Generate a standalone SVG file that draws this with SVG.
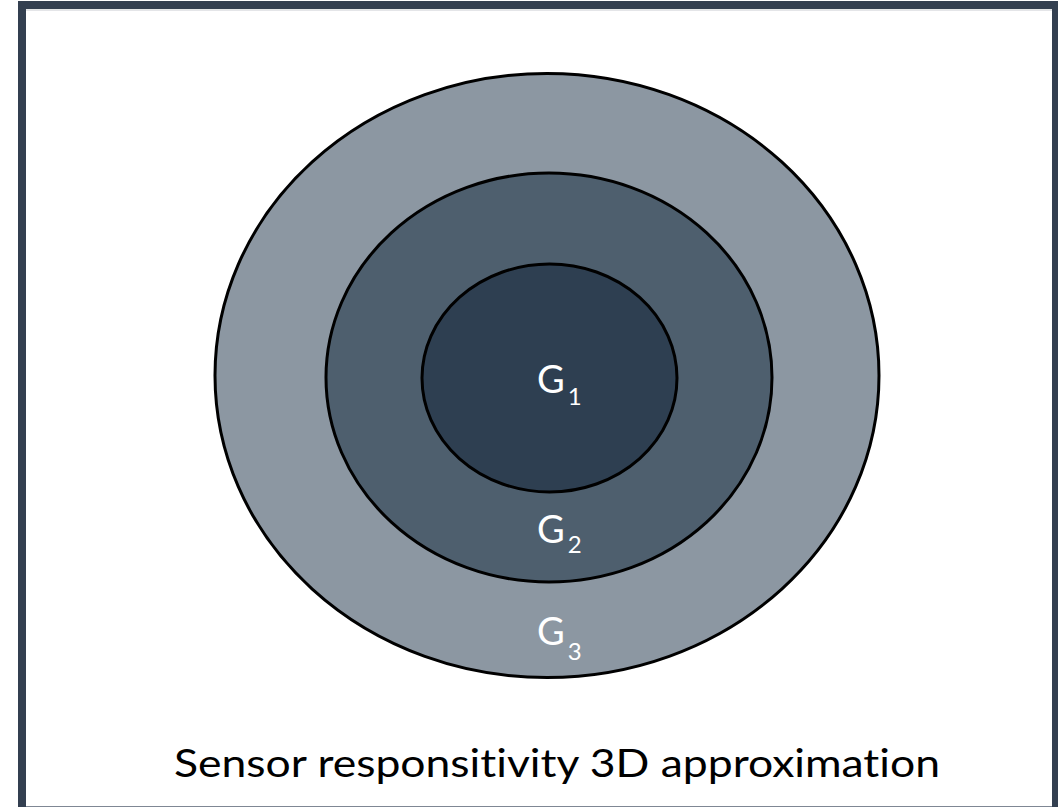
<svg xmlns="http://www.w3.org/2000/svg" width="1058" height="807" viewBox="0 0 1058 807">
<style>
.ring{stroke:#000;stroke-width:3}
.lbl{font-family:Lato,"Open Sans",sans-serif;fill:#fff;font-size:38px}
.sub{font-size:24px}
.cap{font-family:Lato,"Open Sans",sans-serif;fill:#000;font-size:39px;font-variant-ligatures:none}
</style>
<rect x="0" y="0" width="1058" height="807" fill="#fff"/>
<rect id="frame" x="22" y="5" width="1034" height="806" fill="#fff" stroke="#333f50" stroke-width="8"/>
<line x1="26" y1="10" x2="1052" y2="10" stroke="#c9ccd1" stroke-width="1"/>
<line x1="26" y1="806.5" x2="1052" y2="806.5" stroke="#7f8794" stroke-width="1"/>
<g id="G3">
<ellipse class="ring" cx="547" cy="375.5" rx="332" ry="302" fill="#8c97a2"/>
</g>
<g id="G2">
<ellipse class="ring" cx="549" cy="377.5" rx="223" ry="204.5" fill="#4e5f6e"/>
</g>
<g id="G1">
<ellipse class="ring" cx="549.5" cy="378" rx="127.5" ry="114" fill="#2e3f51"/>
</g>
<g id="labels">
<text class="lbl" x="537" y="393">G<tspan class="sub" dx="3" dy="12">1</tspan></text>
<text class="lbl" x="537" y="543">G<tspan class="sub" dx="3" dy="10">2</tspan></text>
<text class="lbl" x="537" y="645">G<tspan class="sub" dx="3" dy="15">3</tspan></text>
</g>
<text class="cap" x="174" y="777" textLength="766" lengthAdjust="spacingAndGlyphs">Sensor responsitivity 3D  approximation</text>
</svg>
